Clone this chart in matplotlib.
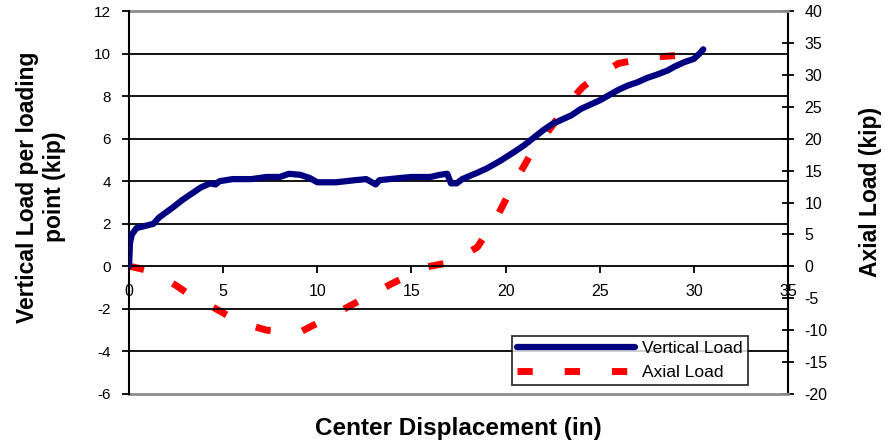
import matplotlib
matplotlib.use('Agg')
import matplotlib.pyplot as plt

plt.rcParams['font.family'] = ['Liberation Sans', 'DejaVu Sans']
plt.rcParams['axes.unicode_minus'] = False

# Vertical load per loading point (kip) vs center displacement (in)
disp_v = [0, 0.05, 0.15, 0.4, 0.95, 1.3, 1.6, 2.3, 2.8, 3.3, 3.8, 4.3, 4.6, 4.8,
          5.5, 6.5, 7.3, 8.0, 8.5, 9.1, 9.6, 10.0, 11.0, 12.0, 12.6, 13.1, 13.3,
          14.4, 15.0, 16.0, 16.5, 16.9, 17.1, 17.4, 17.7, 18.5, 19.0, 19.7, 20.5,
          21.0, 21.5, 22.0, 22.5, 23.0, 23.5, 24.0, 24.5, 25.0, 25.5, 26.0, 26.5,
          27.0, 27.5, 28.0, 28.6, 29.0, 29.5, 30.0, 30.3, 30.5]
vert_load = [0, 1.1, 1.5, 1.8, 1.92, 2.0, 2.3, 2.75, 3.1, 3.4, 3.7, 3.9, 3.85, 4.0,
             4.1, 4.1, 4.2, 4.2, 4.35, 4.3, 4.15, 3.95, 3.95, 4.05, 4.1, 3.85, 4.05,
             4.15, 4.2, 4.2, 4.3, 4.35, 3.9, 3.9, 4.1, 4.4, 4.6, 4.95, 5.4,
             5.7, 6.05, 6.4, 6.7, 6.9, 7.1, 7.4, 7.6, 7.8, 8.05, 8.3, 8.5,
             8.65, 8.85, 9.0, 9.2, 9.4, 9.6, 9.75, 10.0, 10.2]

# Axial load (kip) vs center displacement (in)
disp_a = [0, 0.2, 0.8, 1.75, 2.5, 3.24, 4.46, 5.9, 7.3, 9.08, 10.8, 12.6, 14.1,
          15.8, 17.2, 18.5, 19.5, 20.4, 21.3, 22.5, 23.3, 24.1, 24.9, 26.0, 26.9,
          28.0, 29.4, 30.1, 30.6]
axial_load = [0, -0.1, -0.5, -1.7, -3.0, -4.5, -6.4, -8.8, -10.0, -10.3, -7.7,
              -4.8, -2.5, -0.1, 0.7, 3.0, 7.5, 12.7, 17.4, 22.1, 25.5, 28.1, 29.9,
              31.8, 32.3, 32.8, 33.1, 33.6, 33.1]

fig = plt.figure(figsize=(8.85, 4.46), dpi=100)
ax = fig.add_axes([0.1458, 0.1166, 0.7446, 0.8587])
ax2 = ax.twinx()

ax.set_xlim(0, 35)
ax.set_ylim(-6, 12)
ax2.set_ylim(-20, 40)
ax.set_xticks(range(0, 36, 5))
ax.set_yticks(range(-6, 13, 2))
ax2.set_yticks(range(-20, 41, 5))

# horizontal gridlines, grey at the frame edges
ax.grid(axis='y', color='black', linewidth=1.3)
ax.grid(axis='x', visible=False)
glines = ax.get_ygridlines()
for g in (glines[0], glines[-1]):
    g.set_color('#8c8c8c')
    g.set_linewidth(2)
    g.set_clip_on(False)

for sp in ['top', 'right']:
    ax.spines[sp].set_visible(False)
ax.spines['bottom'].set_position(('data', 0))
ax.spines['bottom'].set_visible(False)
ax.spines['left'].set_linewidth(1.5)
for sp in ['top', 'bottom', 'left']:
    ax2.spines[sp].set_visible(False)
ax2.spines['right'].set_linewidth(1.5)

ax.tick_params(axis='y', direction='out', length=5, width=1.3, labelsize=11, pad=8)
ax.tick_params(axis='x', direction='out', length=5, width=1.3, labelsize=11.5, pad=8)
ax2.tick_params(axis='y', direction='inout', length=8, width=1.3, labelsize=11.5, pad=8)

l1, = ax.plot(disp_v, vert_load, color='#000080', linewidth=4.5, solid_capstyle='round',
              solid_joinstyle='round', label='Vertical Load', zorder=3)
l2, = ax2.plot(disp_a, axial_load, color='#ff0000', linewidth=5,
               linestyle=(0, (2.2, 4.6)), label='Axial Load', zorder=3)
l2.set_dash_capstyle('butt')

ax.set_xlabel('Center Displacement (in)', fontsize=17.5, fontweight='bold')
ax.xaxis.set_label_coords(0.5, -0.06)
ax.set_ylabel('Vertical Load per loading\npoint (kip)', fontsize=16.5,
              fontweight='bold', linespacing=1.2)
ax.yaxis.set_label_coords(-0.096, 0.54)
ax2.set_ylabel('Axial Load (kip)', fontsize=16.5, fontweight='bold')
ax2.yaxis.set_label_coords(1.107, 0.527)

leg = ax.legend(handles=[l1, l2], loc='lower right', bbox_to_anchor=(0.939, 0.0235),
                fontsize=12.5, frameon=True, fancybox=False, handlelength=6.8,
                borderpad=0.3, labelspacing=0.5, handletextpad=0.4,
                borderaxespad=0)
leg.get_frame().set_edgecolor('black')
leg.get_frame().set_linewidth(1.3)
leg.set_zorder(5)
ax.set_zorder(ax2.get_zorder() + 1)
ax.patch.set_visible(False)

fig.savefig('out.png', dpi=100)
